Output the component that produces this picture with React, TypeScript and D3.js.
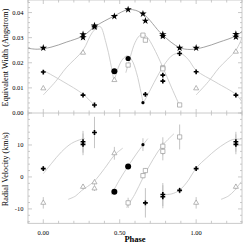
import React from "react";
import * as d3 from "d3";

// ---------- data: top panel (equivalent width) ----------
const starPhase = [0, 0.26, 0.26, 0.335, 0.335, 0.465, 0.555, 0.652, 0.668, 0.782, 0.782, 0.892, 1.0, 1.26, 1.26];
const starEw = [0.0259, 0.0313, 0.0301, 0.0348, 0.0343, 0.0385, 0.0412, 0.0395, 0.0367, 0.0313, 0.0306, 0.0259, 0.0259, 0.0314, 0.0303];

const circPhase = [0.465, 0.555, 0.652];
const circEw = [0.0166, 0.0217, 0.0041];
const circRv = [-4.6, 3.3, 10.1];
const circRvErr = [0.8, 0.8, 2.0];

const triPhaseTop = [0, 0.26, 0.335, 0.335, 0.465, 1.0, 1.26];
const triEw = [0.0098, 0.024, 0.0345, 0.034, 0.0131, 0.0098, 0.0244];

const sqPhaseTop = [0.555, 0.652, 0.668, 0.782, 0.782, 0.892];
const sqEw = [0.0191, 0.031, 0.029, 0.018, 0.0176, 0.0032];

const crossPhaseTop = [0, 0.26, 0.335, 0.668, 0.782, 0.782, 0.892, 1.0, 1.26];
const crossEw = [0.0163, 0.0071, 0.0032, 0.0074, 0.0151, 0.0127, 0.0237, 0.0164, 0.0071];

// fitted curves (top)
const starFitPh = [-0.1, -0.04, 0.05, 0.15, 0.26, 0.34, 0.46, 0.56, 0.65, 0.78, 0.89, 0.96, 1.05, 1.15, 1.26, 1.3];
const starFitEw = [0.0258, 0.0254, 0.0262, 0.0282, 0.0307, 0.0345, 0.0385, 0.0412, 0.0396, 0.0311, 0.0261, 0.0253, 0.0262, 0.0282, 0.0307, 0.0325];
const triFitAPh = [0, 0.08, 0.15, 0.26, 0.32, 0.37, 0.41, 0.44, 0.46];
const triFitAEw = [0.0072, 0.0125, 0.018, 0.025, 0.032, 0.0345, 0.028, 0.02, 0.0135];
const triFitBPh = [1.0, 1.08, 1.15, 1.26, 1.3];
const triFitBEw = [0.0072, 0.0125, 0.018, 0.025, 0.03];
const circFitPh = [0.465, 0.49, 0.52, 0.55, 0.58, 0.61, 0.64, 0.655];
const circFitEw = [0.013, 0.018, 0.0215, 0.0228, 0.021, 0.016, 0.008, 0.0035];
const sqFitPh = [0.54, 0.57, 0.6, 0.63, 0.655, 0.68, 0.72, 0.78, 0.84, 0.89];
const sqFitEw = [0.016, 0.0225, 0.028, 0.0308, 0.0313, 0.0302, 0.0262, 0.0185, 0.01, 0.0032];
const crossFitAPh = [0, 0.13, 0.26, 0.335];
const crossFitAEw = [0.017, 0.0125, 0.0075, 0.003];
const crossFitBPh = [0.655, 0.7, 0.75, 0.8, 0.85, 0.9, 0.95, 1.0, 1.13, 1.26, 1.3];
const crossFitBEw = [0.004, 0.0092, 0.015, 0.02, 0.0232, 0.0237, 0.0212, 0.017, 0.0122, 0.0074, 0.0045];

// ---------- data: bottom panel (radial velocity) ----------
const crossPhaseBot = [0, 0.26, 0.26, 0.335, 0.668, 0.782, 0.782, 0.892, 1.0, 1.26, 1.26];
const crossRv = [2.6, 11.0, 10.2, 13.9, -8.1, -5.5, -6.2, -4.2, 2.6, 11.0, 10.2];
const crossRvErr = [0.8, 3.4, 3.4, 4.9, 4.6, 3.6, 3.6, 1.0, 0.8, 3.1, 3.1];

const triPhaseBot = [0, 0.26, 0.335, 0.335, 0.465, 1.0, 1.26];
const triRv = [-8.1, -3.1, -1.7, -3.6, 7.4, -8.1, -3.1];
const triRvErr = [1.8, 0.8, 0.8, 0.8, 2.0, 1.8, 0.8];

const sqPhaseBot = [0.555, 0.652, 0.668, 0.782, 0.782, 0.892];
const sqRv = [-8.1, 0.4, 2.0, 9.6, 8.0, 12.5];
const sqRvErr = [1.6, 0.8, 0.8, 2.8, 2.8, 3.9];

const crossRvFitAPh = [0, 0.055, 0.12, 0.185, 0.25, 0.272];
const crossRvFitA = [1.0, 4.3, 7.9, 10.5, 11.8, 12.0];
const crossRvFitBPh = [0.782, 0.84, 0.892, 0.95, 1.0, 1.07, 1.13, 1.19, 1.24, 1.295];
const crossRvFitB = [-5.5, -5.3, -4.1, -1.0, 2.8, 6.0, 8.5, 10.5, 11.7, 11.8];
const triRvFitAPh = [0.163, 0.21, 0.25, 0.33, 0.4, 0.467, 0.52];
const triRvFitA = [-7.0, -6.0, -4.3, -1.5, 2.6, 6.9, 9.0];
const triRvFitBPh = [1.163, 1.21, 1.25, 1.295];
const triRvFitB = [-7.0, -6.0, -4.3, -1.5];
const circRvFitPh = [0.446, 0.5, 0.554, 0.609, 0.652, 0.684];
const circRvFit = [-5.5, -0.8, 3.3, 7.2, 10.0, 12.0];
const sqRvFitPh = [0.544, 0.598, 0.652, 0.717, 0.782, 0.855];
const sqRvFit = [-9.6, -5.5, -0.3, 5.4, 10.0, 13.5];

const xTickLabels = ["0.00", "0.50", "1.00"];
const yTopTickLabels = ["0.00", "0.01", "0.02", "0.03", "0.04"];
const yBotTickLabels = ["-10", "0", "10"];

// ---------- styles ----------
const circRadiusTop = [3, 2.6, 1.6];
const circRadiusBot = [3, 3, 1.6];
const W = 249, H = 243;
const L = 28, R = 242, T = 0, M = 113, B = 223.3;
const axisColor = "#bdbdbd";
const fitColor = "#c4c4c4";
const starFitColor = "#8a8a8a";
const openColor = "#9a9a9a";
const errColor = "#b5b5b5";
const font = "'Liberation Serif', 'Times New Roman', serif";

export default function App() {
  const x = d3.scaleLinear().domain([-0.1, 1.3]).range([L, R]);
  const yT = d3.scaleLinear().domain([0, 0.045]).range([M, T]);
  const yB = d3.scaleLinear().domain([-14.5, 20]).range([B, M]);

  const lineT = (ph: number[], v: number[]) =>
    d3.line<number>().x((_, i) => x(ph[i])).y((d) => yT(d)).curve(d3.curveCatmullRom)(v) || "";
  const lineB = (ph: number[], v: number[]) =>
    d3.line<number>().x((_, i) => x(ph[i])).y((d) => yB(d)).curve(d3.curveCatmullRom)(v) || "";

  const star = d3.symbol(d3.symbolStar, 17)() || "";
  const cross = d3.symbol(d3.symbolCross, 13)() || "";
  const tri = d3.symbol(d3.symbolTriangle, 11)() || "";
  const sq = d3.symbol(d3.symbolSquare, 18)() || "";

  const xMinor = d3.range(-1, 14).map((i) => i / 10);
  const xMajor = [0, 0.5, 1.0];
  const yTMinor = d3.range(0, 23).map((i) => i * 0.002);
  const yTMajor = [0, 0.01, 0.02, 0.03, 0.04];
  const yBMinor = d3.range(-7, 11).map((i) => i * 2);
  const yBMajor = [-10, 0, 10];

  const ticks: JSX.Element[] = [];
  xMinor.forEach((v, i) => {
    const big = xMajor.some((m) => Math.abs(m - v) < 1e-9);
    const len = big ? 4 : 2.5;
    const px = x(v);
    ticks.push(<line key={"xb" + i} x1={px} x2={px} y1={B} y2={B - len} />);
    ticks.push(<line key={"xm" + i} x1={px} x2={px} y1={M} y2={M - len} />);
    ticks.push(<line key={"xm2" + i} x1={px} x2={px} y1={M} y2={M + len} />);
    ticks.push(<line key={"xt" + i} x1={px} x2={px} y1={T} y2={T + len} />);
  });
  yTMinor.forEach((v, i) => {
    const big = yTMajor.some((m) => Math.abs(m - v) < 1e-9);
    const len = big ? 4 : 2;
    const py = yT(v);
    ticks.push(<line key={"yl" + i} x1={L} x2={L + len} y1={py} y2={py} />);
    ticks.push(<line key={"yr" + i} x1={R} x2={R - len} y1={py} y2={py} />);
  });
  yBMinor.forEach((v, i) => {
    const big = yBMajor.some((m) => Math.abs(m - v) < 1e-9);
    const len = big ? 4 : 2;
    const py = yB(v);
    ticks.push(<line key={"bl" + i} x1={L} x2={L + len} y1={py} y2={py} />);
    ticks.push(<line key={"br" + i} x1={R} x2={R - len} y1={py} y2={py} />);
  });

  const errBars = (ph: number[], v: number[], e: number[], k: string) =>
    ph.map((p, i) => (
      <line key={k + i} x1={x(p)} x2={x(p)} y1={yB(v[i] - e[i])} y2={yB(v[i] + e[i])} stroke={errColor} strokeWidth={0.8} />
    ));

  return (
    <div style={{ position: "absolute", left: 0, top: 0 }}>
      <svg width={W} height={H} style={{ display: "block", background: "#fff" }}>
        <defs>
          <clipPath id="cTop"><rect x={L} y={T} width={R - L} height={M - T} /></clipPath>
          <clipPath id="cBot"><rect x={L} y={M} width={R - L} height={B - M} /></clipPath>
        </defs>
        {/* frame */}
        <g stroke={axisColor} strokeWidth={0.8} fill="none">
          <rect x={L} y={T} width={R - L} height={B - T} />
          <line x1={L} x2={R} y1={M} y2={M} />
          {ticks}
        </g>

        {/* top panel */}
        <g clipPath="url(#cTop)" fill="none" strokeWidth={0.8}>
          <path d={lineT(triFitAPh, triFitAEw)} stroke={fitColor} />
          <path d={lineT(triFitBPh, triFitBEw)} stroke={fitColor} />
          <path d={lineT(circFitPh, circFitEw)} stroke={fitColor} />
          <path d={lineT(sqFitPh, sqFitEw)} stroke={fitColor} />
          <path d={lineT(crossFitAPh, crossFitAEw)} stroke={fitColor} />
          <path d={lineT(crossFitBPh, crossFitBEw)} stroke={fitColor} />
          <path d={lineT(starFitPh, starFitEw)} stroke={starFitColor} />
        </g>
        <g>
          {triPhaseTop.map((p, i) => (
            <path key={"tt" + i} d={tri} transform={`translate(${x(p)},${yT(triEw[i])})`} fill="#fff" stroke={openColor} strokeWidth={0.7} />
          ))}
          {sqPhaseTop.map((p, i) => (
            <path key={"st" + i} d={sq} transform={`translate(${x(p)},${yT(sqEw[i])})`} fill="#fff" stroke={openColor} strokeWidth={0.7} />
          ))}
          {circPhase.map((p, i) => (
            <circle key={"ct" + i} cx={x(p)} cy={yT(circEw[i])} r={circRadiusTop[i]} fill="#000" />
          ))}
          {crossPhaseTop.map((p, i) => (
            <path key={"xt" + i} d={cross} transform={`translate(${x(p)},${yT(crossEw[i])})`} fill="#000" />
          ))}
          {starPhase.map((p, i) => (
            <path key={"s" + i} d={star} transform={`translate(${x(p)},${yT(starEw[i])})`} fill="#000" />
          ))}
        </g>

        {/* bottom panel */}
        <g clipPath="url(#cBot)" fill="none" strokeWidth={0.8}>
          <path d={lineB(crossRvFitAPh, crossRvFitA)} stroke={fitColor} />
          <path d={lineB(crossRvFitBPh, crossRvFitB)} stroke={fitColor} />
          <path d={lineB(triRvFitAPh, triRvFitA)} stroke={fitColor} />
          <path d={lineB(triRvFitBPh, triRvFitB)} stroke={fitColor} />
          <path d={lineB(circRvFitPh, circRvFit)} stroke={fitColor} />
          <path d={lineB(sqRvFitPh, sqRvFit)} stroke={fitColor} />
        </g>
        <g>
          {errBars(crossPhaseBot, crossRv, crossRvErr, "ec")}
          {errBars(triPhaseBot, triRv, triRvErr, "et")}
          {errBars(sqPhaseBot, sqRv, sqRvErr, "es")}
          {errBars(circPhase, circRv, circRvErr, "eo")}
          {triPhaseBot.map((p, i) => (
            <path key={"tb" + i} d={tri} transform={`translate(${x(p)},${yB(triRv[i])})`} fill="#fff" stroke={openColor} strokeWidth={0.7} />
          ))}
          {sqPhaseBot.map((p, i) => (
            <path key={"sb" + i} d={sq} transform={`translate(${x(p)},${yB(sqRv[i])})`} fill="#fff" stroke={openColor} strokeWidth={0.7} />
          ))}
          {circPhase.map((p, i) => (
            <circle key={"cb" + i} cx={x(p)} cy={yB(circRv[i])} r={circRadiusBot[i]} fill="#000" />
          ))}
          {crossPhaseBot.map((p, i) => (
            <path key={"xb" + i} d={cross} transform={`translate(${x(p)},${yB(crossRv[i])})`} fill="#000" />
          ))}
        </g>

        {/* labels */}
        <g fontFamily={font} fontSize={6.5} fill="#000">
          {xMajor.map((v, i) => (
            <text key={"xl" + i} x={x(v)} y={235} textAnchor="middle">{xTickLabels[i]}</text>
          ))}
          {yTMajor.map((v, i) => (
            <text key={"yl" + i} x={23.5} y={yT(v) + 2.3} textAnchor="end">{yTopTickLabels[i]}</text>
          ))}
          {yBMajor.map((v, i) => (
            <text key={"bl" + i} x={23.5} y={yB(v) + 2.3} textAnchor="end">{yBotTickLabels[i]}</text>
          ))}
        </g>
        <text x={(L + R) / 2} y={242} textAnchor="middle" fontFamily={font} fontSize={8.5} fontWeight="bold">Phase</text>
        <text transform={`translate(8,${(T + M) / 2 + 1}) rotate(-90)`} textAnchor="middle" fontFamily={font} fontSize={8.2}>Equivalent Width (Angstrom)</text>
        <text transform={`translate(8,${(M + B) / 2 + 1}) rotate(-90)`} textAnchor="middle" fontFamily={font} fontSize={8.2}>Radial Velocity (km/s)</text>
      </svg>
    </div>
  );
}
